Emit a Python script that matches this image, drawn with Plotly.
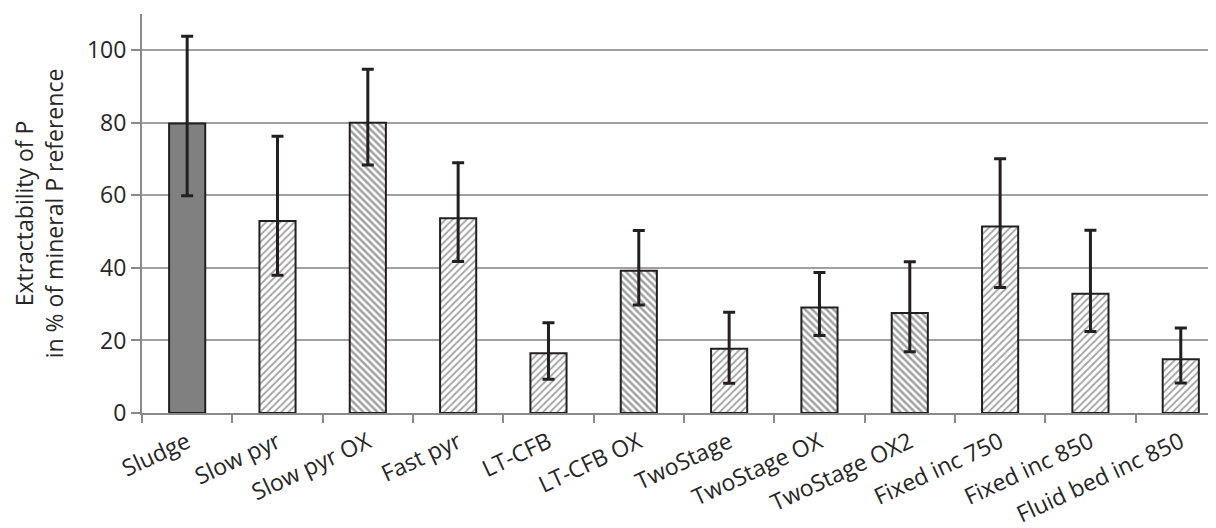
import plotly.graph_objects as go

categories = ["Sludge", "Slow pyr", "Slow pyr OX", "Fast pyr", "LT-CFB", "LT-CFB OX",
              "TwoStage", "TwoStage OX", "TwoStage OX2", "Fixed inc 750", "Fixed inc 850",
              "Fluid bed inc 850"]
values = [79.8, 52.9, 80.0, 53.7, 16.5, 39.2, 17.7, 29.1, 27.6, 51.4, 32.9, 14.8]
upper = [103.9, 76.3, 94.8, 69.0, 24.9, 50.3, 27.8, 38.7, 41.7, 70.1, 50.4, 23.4]
lower = [59.9, 38.0, 68.4, 41.8, 9.3, 29.8, 8.2, 21.4, 16.9, 34.6, 22.5, 8.3]
# fill style per bar: "solid", "light" (/ hatch), "dark" (\ hatch)
styles = ["solid", "light", "dark", "light", "light", "dark", "light", "dark", "dark",
          "light", "light", "light"]
y_ticks = [0, 20, 40, 60, 80, 100]

style_map = {
    "solid": dict(color="#808080", shape="", fg="#808080", sol=0.5),
    "light": dict(color="white", shape="/", fg="#a8a8a8", sol=0.35),
    "dark": dict(color="white", shape="\\", fg="#7a7a7a", sol=0.5),
}

err_plus = [u - v for u, v in zip(upper, values)]
err_minus = [v - l for v, l in zip(values, lower)]

fig = go.Figure()
fig.add_trace(go.Bar(
    x=categories,
    y=values,
    width=0.4,
    marker=dict(
        color=[style_map[s]["color"] for s in styles],
        line=dict(color="#231f20", width=2),
        pattern=dict(
            shape=[style_map[s]["shape"] for s in styles],
            fgcolor=[style_map[s]["fg"] for s in styles],
            size=5,
            solidity=[style_map[s]["sol"] for s in styles],
        ),
    ),
    error_y=dict(
        type="data",
        symmetric=False,
        array=err_plus,
        arrayminus=err_minus,
        color="#231f20",
        thickness=3,
        width=6,
    ),
    showlegend=False,
))

font_family = "Open Sans, Liberation Sans, sans-serif"
# page body adds an 8px offset, so the figure is 8px smaller than the window
fig.update_layout(
    width=1208,
    height=520,
    margin=dict(l=134, r=0, t=6, b=115),
    paper_bgcolor="white",
    plot_bgcolor="white",
    font=dict(family=font_family, size=23, color="#262626"),
    bargap=0.6,
)
fig.update_xaxes(
    type="category",
    range=[-0.5, 11.39],
    tickangle=-25,
    tickson="boundaries",
    ticks="outside",
    ticklen=8,
    tickwidth=2,
    tickcolor="#8a8a8a",
    ticklabelstandoff=5,
    showline=True,
    linecolor="#8a8a8a",
    linewidth=2,
    showgrid=False,
    automargin=False,
    tickfont=dict(size=23, color="#262626"),
)
fig.update_yaxes(
    range=[0, 110],
    tickvals=y_ticks,
    ticks="outside",
    ticklen=9,
    tickwidth=2,
    tickcolor="#8a8a8a",
    showline=True,
    linecolor="#8a8a8a",
    linewidth=2,
    showgrid=True,
    gridcolor="#a0a0a0",
    gridwidth=2,
    zeroline=False,
    automargin=False,
    tickfont=dict(size=23, color="#262626"),
    title=dict(text="Extractability of P<br>in % of mineral P reference",
               font=dict(size=23, color="#262626"), standoff=21),
)

fig.write_html("out.html")
